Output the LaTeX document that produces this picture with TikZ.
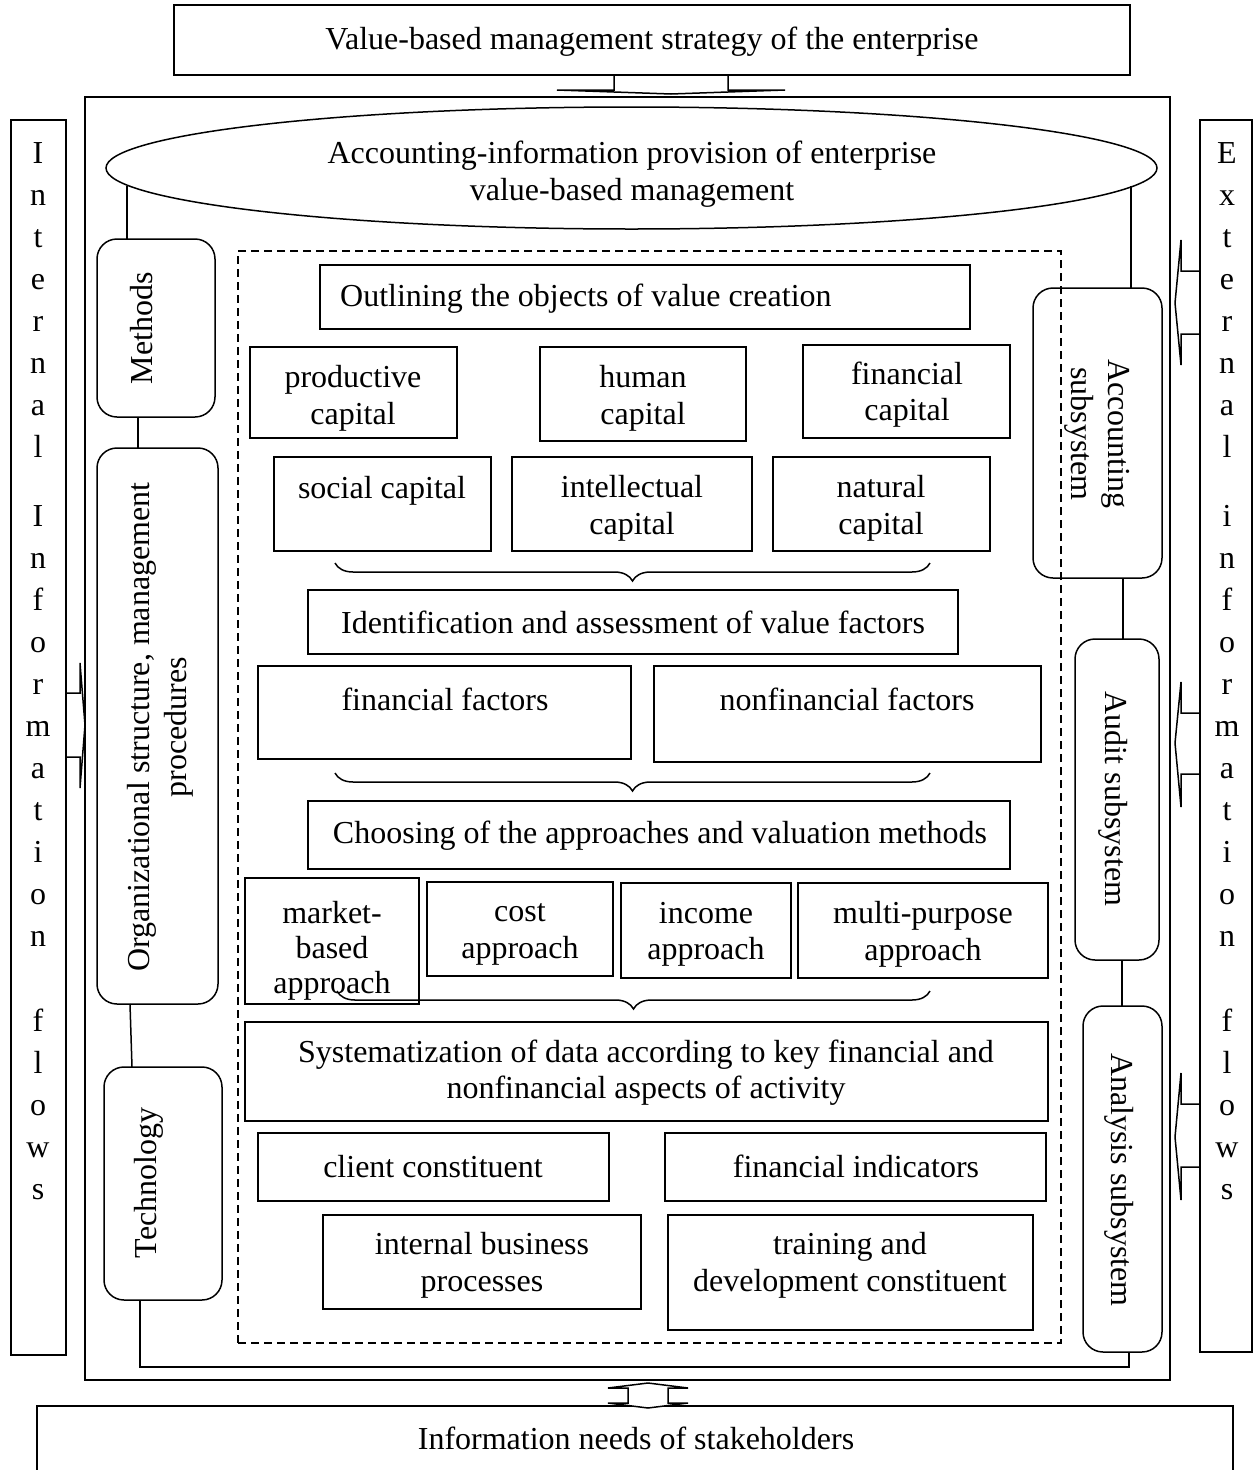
\documentclass[tikz,border=0pt]{standalone}
\usepackage{fontspec}
\setmainfont{Liberation Serif}
\usetikzlibrary{shapes.geometric,decorations.pathreplacing}
\tikzset{
  box/.style={draw, line width=1.5pt, rectangle, inner sep=0pt, outer sep=0pt},
  rbox/.style={box, rounded corners=20pt},
  dbox/.style={box, dash pattern=on 8pt off 5pt},
  txt/.style={inner sep=0pt, align=center},
  htxt/.style={txt, yshift=-2.5pt},
  ltr/.style={inner sep=0pt, anchor=base},
  conn/.style={line width=1.5pt},
  blockarrow/.style={line width=1.5pt, line join=miter},
  brc/.style={line width=1.5pt, decorate, decoration={brace, mirror, amplitude=18pt}},
}
\newcommand{\mkbox}[6][box]{\node[#1, minimum width={(#5-#3)*1pt}, minimum height={(#6-#4)*1pt}] (#2) at ({(#3+#5)/2},{(#4+#6)/2}) {};}
\begin{document}
\begin{tikzpicture}[x=1pt,y=-1pt, font=\fontsize{32}{36.5}\selectfont]
\useasboundingbox (0,0) rectangle (1253,1470);

% top box and arrow
\mkbox{top}{174}{5}{1130}{75}
\node[htxt] (toptxt) at (652,39) {Value-based management strategy of the enterprise};
\draw[blockarrow] (614,75) -- (614,90) -- (557,90) -- (671,94) -- (785,90) -- (728,90) -- (728,75);

% main frame and side columns
\mkbox{frame}{85}{97}{1170}{1380}
\mkbox{lcol}{11}{120}{66}{1355}
\mkbox{rcol}{1200}{120}{1252}{1352}
\foreach \l/\b [count=\i] in {I/163,n/205,t/247,e/289,r/331,n/373,a/415,l/457,I/526,n/568,f/610,o/652,r/694,m/736,a/778,t/820,i/862,o/904,n/946,f/1031,l/1073,o/1115,w/1157,s/1199}
  \node[ltr] (li\i) at (38,\b) {\l};
\foreach \l/\b [count=\i] in {E/163,x/205,t/247,e/289,r/331,n/373,a/415,l/457,i/526,n/568,f/610,o/652,r/694,m/736,a/778,t/820,i/862,o/904,n/946,f/1031,l/1073,o/1115,w/1157,s/1199}
  \node[ltr] (ri\i) at (1227,\b) {\l};

% side arrows
\draw[blockarrow] (66,693) -- (80,693) -- (80,663) -- (85,725) -- (80,788) -- (80,757) -- (66,757);
\draw[blockarrow] (1200,271) -- (1181,271) -- (1181,240) -- (1175,303) -- (1181,365) -- (1181,334) -- (1200,334);
\draw[blockarrow] (1200,713) -- (1181,713) -- (1181,682) -- (1175,743) -- (1181,807) -- (1181,774) -- (1200,774);
\draw[blockarrow] (1200,1104) -- (1181,1104) -- (1181,1073) -- (1175,1137) -- (1181,1200) -- (1181,1167) -- (1200,1167);

% ellipse
\node[draw, ellipse, line width=1.5pt, minimum width=1051pt, minimum height=122pt, inner sep=0pt] (ell) at (631.5,168) {};
\node[htxt] (elltxt) at (632,171.5) {Accounting-information provision of enterprise\\value-based management};

% left rounded boxes
\mkbox[rbox]{meth}{97}{239}{215}{417}
\mkbox[rbox]{org}{97}{448}{218}{1004}
\mkbox[rbox]{tech}{104}{1067}{222}{1300}
\node[txt, rotate=90] (methtxt) at (142,328) {Methods};
\node[txt, rotate=90] (orgtxt) at (160.5,727) {Organizational structure, management\\procedures};
\node[txt, rotate=90] (techtxt) at (149,1183) {Technology};

% right rounded boxes
\mkbox[rbox]{acc}{1033}{288}{1162}{578}
\mkbox[rbox]{aud}{1075}{639}{1159}{960}
\mkbox[rbox]{anal}{1083}{1006}{1162}{1352}
\node[txt, rotate=-90] (acctxt) at (1097,434) {Accounting\\subsystem};
\node[txt, rotate=-90] (audtxt) at (1113,799) {Audit subsystem};
\node[txt, rotate=-90] (analtxt) at (1119,1180) {Analysis subsystem};

% connectors
\draw[conn] (ell.182) -- (ell.182 |- meth.north);
\draw[conn] ([xshift=-4.7pt]ell.358) -- ([xshift=-4.7pt]ell.358 |- acc.north);
\draw[conn] ([xshift=41pt]meth.south west) -- ([xshift=41pt]meth.south west |- org.north);
\draw[conn] ([xshift=33pt]org.south west) -- ([xshift=28pt]tech.north west);
\draw[conn] ([xshift=36pt]tech.south west) -- ++(0,67) -| ([xshift=46pt]anal.south west);
\draw[conn] ([xshift=90pt]acc.south west) -- ([xshift=48pt]aud.north west);
\draw[conn] ([xshift=47pt]aud.south west) -- ([xshift=39pt]anal.north west);

% dashed area
\mkbox[dbox]{dash}{238}{251}{1061}{1343}

\mkbox{outl}{320}{265}{970}{329}
\node[htxt, anchor=west] (outltxt) at (340,296) {Outlining the objects of value creation};

\mkbox{prod}{250}{347}{457}{438}
\node[htxt] (prodtxt) at (353,396) {productive\\capital};
\mkbox{hum}{540}{347}{746}{441}
\node[htxt] (humtxt) at (643,396) {human\\capital};
\mkbox{fin}{803}{345}{1010}{438}
\node[htxt] (fintxt) at (907,392) {financial\\capital};
\mkbox{soc}{274}{457}{491}{551}
\node[htxt] (soctxt) at (382,488) {social capital};
\mkbox{intel}{512}{457}{752}{551}
\node[htxt] (inteltxt) at (632,506) {intellectual\\capital};
\mkbox{nat}{773}{457}{990}{551}
\node[htxt] (nattxt) at (881,506) {natural\\capital};

\coordinate (b1l) at (335,563); \coordinate (b1r) at (930,563);
\draw[brc] (b1l) -- (b1r);

\mkbox{ident}{308}{590}{958}{654}
\node[htxt] (identtxt) at (633,620) {Identification and assessment of value factors};
\mkbox{ff}{258}{666}{631}{759}
\node[htxt] (fftxt) at (445,697) {financial factors};
\mkbox{nff}{654}{666}{1041}{762}
\node[htxt] (nfftxt) at (847,697) {nonfinancial factors};

\coordinate (b2l) at (335,773); \coordinate (b2r) at (930,773);
\draw[brc] (b2l) -- (b2r);

\mkbox{choose}{308}{801}{1010}{869}
\node[htxt] (choosetxt) at (660,833) {Choosing of the approaches and valuation methods};
\mkbox{mkt}{245}{878}{419}{1004}
\node[htxt, font=\fontsize{32}{35}\selectfont] (mkttxt) at (332,948) {market-\\based\\approach};
\mkbox{cost}{427}{882}{613}{976}
\node[htxt] (costtxt) at (520,932) {cost\\approach};
\mkbox{inc}{621}{883}{791}{978}
\node[htxt] (inctxt) at (706,932) {income\\approach};
\mkbox{multi}{798}{883}{1048}{978}
\node[htxt] (multitxt) at (923,932) {multi-purpose\\approach};

\coordinate (b3l) at (337,991); \coordinate (b3r) at (930,991);
\draw[brc] (b3l) -- (b3r);

\mkbox{sys}{245}{1022}{1048}{1121}
\node[htxt] (systxt) at (646,1070) {Systematization of data according to key financial and\\nonfinancial aspects of activity};
\mkbox{client}{258}{1133}{609}{1201}
\node[htxt] (clienttxt) at (433,1164) {client constituent};
\mkbox{finind}{665}{1133}{1046}{1201}
\node[htxt] (finindtxt) at (856,1164) {financial indicators};
\mkbox{ibp}{323}{1215}{641}{1309}
\node[htxt] (ibptxt) at (482,1263) {internal business\\processes};
\mkbox{train}{668}{1215}{1033}{1330}
\node[htxt] (traintxt) at (850,1263) {training and\\development constituent};

% bottom box and double arrow
\draw[conn] (37,1470) |- (1233,1406) -- (1233,1470);
\node[htxt] (bottxt) at (636,1436) {Information needs of stakeholders};
\draw[blockarrow, fill=white] (628,1388) -- (608,1388) -- (648,1383) -- (688,1388) -- (668,1388) -- (668,1403) -- (688,1403) -- (648,1408) -- (608,1403) -- (628,1403) -- cycle;
\end{tikzpicture}
\end{document}
